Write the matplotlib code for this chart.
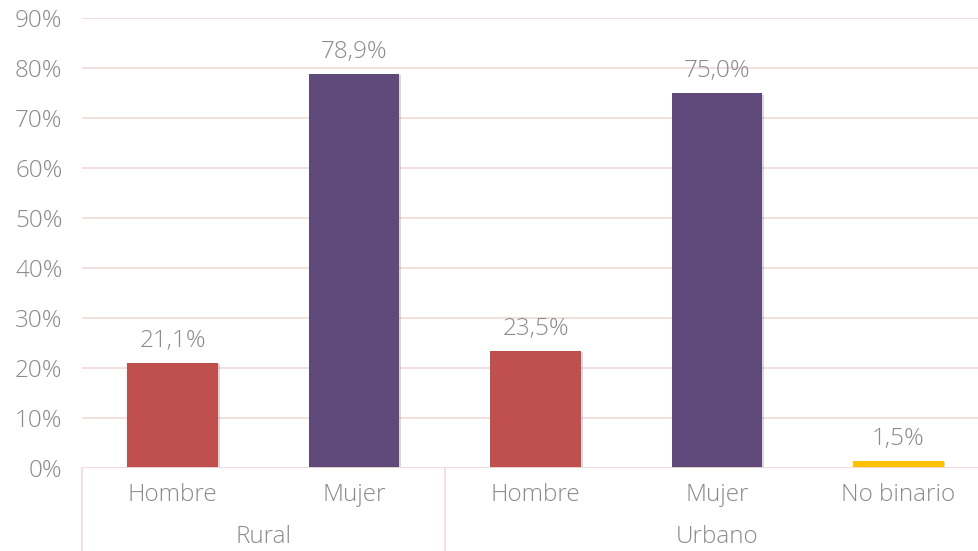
import matplotlib.pyplot as plt
import matplotlib.patheffects as pe
from matplotlib.transforms import blended_transform_factory

# Distribución por sexo según ámbito
groups = ['Rural', 'Urbano']
categories = ['Hombre', 'Mujer', 'Hombre', 'Mujer', 'No binario']
group_of = [0, 0, 1, 1, 1]
values = [21.1, 78.9, 23.5, 75.0, 1.5]
colors = ['#c0504d', '#604a7b', '#c0504d', '#604a7b', '#ffc000']

plt.rcParams['font.family'] = ['Open Sans', 'DejaVu Sans']
text_color = '#8a8a8a'
grid_color = '#f2dcdb'
fs = 17.5
fw = 'light'

fig = plt.figure(figsize=(9.79, 5.51), dpi=100)
# the plot area runs slightly past the right edge of the canvas
ax = fig.add_axes([82 / 979, 83 / 551, 907 / 979, 450 / 551])

x = list(range(len(values)))
bars = ax.bar(x, values, width=0.5, color=colors, zorder=3)
for b in bars:
    b.set_path_effects([pe.SimplePatchShadow(offset=(1.2, -1.2), shadow_rgbFace='#808080', alpha=0.3),
                        pe.Normal()])

for xi, v in zip(x, values):
    ax.annotate(f'{v:.1f}%'.replace('.', ','), (xi, v), xytext=(0, 7),
                textcoords='offset points', ha='center', va='bottom',
                fontsize=fs, color=text_color, fontweight=fw)

ax.set_xlim(-0.5, len(values) - 0.5)
ax.set_ylim(0, 90)
ax.set_yticks(range(0, 91, 10))
ax.set_yticklabels([f'{t}%' for t in range(0, 91, 10)], fontsize=fs,
                   color=text_color, fontweight=fw)
ax.tick_params(axis='y', length=0, pad=14)
ax.tick_params(axis='x', length=0, labelbottom=False)
ax.grid(axis='y', color=grid_color, linewidth=1.3, zorder=0)
for s in ax.spines.values():
    s.set_visible(False)
ax.axhline(0, color=grid_color, linewidth=1.3, zorder=4)

# two-level category axis
trans = blended_transform_factory(ax.transData, fig.transFigure)
for xi, cat in zip(x, categories):
    ax.text(xi, 1 - 495 / 551, cat, transform=trans, ha='center', va='center',
            fontsize=fs, color=text_color, fontweight=fw)
for gi, g in enumerate(groups):
    idx = [i for i, k in enumerate(group_of) if k == gi]
    ax.text((idx[0] + idx[-1]) / 2, 1 - 537 / 551, g, transform=trans,
            ha='center', va='center', fontsize=fs, color=text_color,
            fontweight=fw)
for sep in [-0.5, 1.5, len(values) - 0.5]:
    ax.plot([sep, sep], [83 / 551, 0], transform=trans, color=grid_color,
            linewidth=1.3, clip_on=False)

fig.savefig('out.png', dpi=100)
